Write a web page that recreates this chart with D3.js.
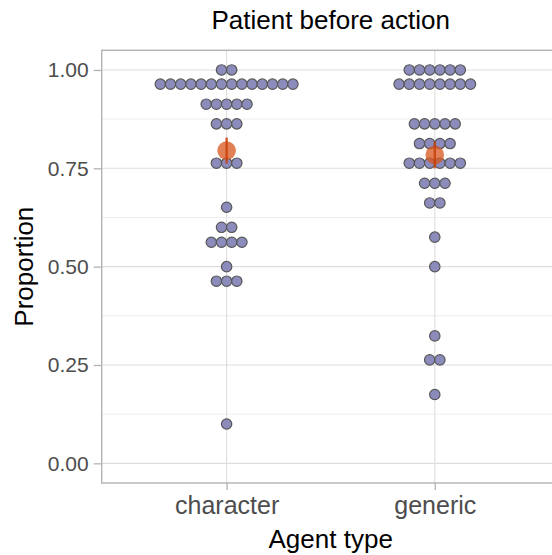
<!DOCTYPE html>
<html>
<head>
<meta charset="utf-8">
<style>
  body { margin: 0; background: #fff; }
  svg { font-family: "Liberation Sans", Arial, sans-serif; }
  .grid-major { stroke: #dedede; stroke-width: 1.1; }
  .grid-minor { stroke: #e6e6e6; stroke-width: 0.7; }
  .dot { fill: #8585b8; stroke: #575757; stroke-width: 1.2; fill-opacity: 0.95; }
</style>
</head>
<body>
<script src="https://d3js.org/d3.v7.min.js"></script>
<div class="chart"></div>
<script>
// categories and dot stacks
var categories = ["character", "generic"];

var characterLevels = [1.00, 0.964, 0.913, 0.863, 0.763, 0.651, 0.600, 0.562, 0.500, 0.463, 0.100];
var characterCounts = [2, 14, 5, 3, 3, 1, 2, 4, 1, 3, 1];

var genericLevels = [1.00, 0.964, 0.863, 0.813, 0.763, 0.712, 0.662, 0.575, 0.500, 0.324, 0.263, 0.175];
var genericCounts = [6, 8, 5, 4, 6, 3, 2, 1, 1, 1, 2, 1];

// mean and error bar per category
var means = [0.795, 0.784];
var lowers = [0.762, 0.750];
var uppers = [0.828, 0.818];

var yTicks = [0, 0.25, 0.5, 0.75, 1];
var yMinor = [0.125, 0.375, 0.625, 0.875];

var width = 552, height = 555;
var panel = {left: 101.7, top: 50.3, right: 559.7, bottom: 483};
var dotR = 5.2, dotStep = 10.2;

var svg = d3.select(".chart").append("svg")
    .attr("width", width)
    .attr("height", height);

var x = d3.scalePoint()
    .domain(categories)
    .range([panel.left, panel.right])
    .padding(0.6);

var y = d3.scaleLinear()
    .domain([-0.05, 1.05])
    .range([panel.bottom, panel.top]);

// grid
svg.append("g").selectAll("line")
    .data(yMinor).enter().append("line")
    .attr("class", "grid-minor")
    .attr("x1", panel.left).attr("x2", panel.right)
    .attr("y1", function(d) { return y(d); })
    .attr("y2", function(d) { return y(d); });

svg.append("g").selectAll("line")
    .data(yTicks).enter().append("line")
    .attr("class", "grid-major")
    .attr("x1", panel.left).attr("x2", panel.right)
    .attr("y1", function(d) { return y(d); })
    .attr("y2", function(d) { return y(d); });

svg.append("g").selectAll("line")
    .data(categories).enter().append("line")
    .attr("class", "grid-major")
    .attr("x1", function(d) { return x(d); })
    .attr("x2", function(d) { return x(d); })
    .attr("y1", panel.top).attr("y2", panel.bottom);

// build dot positions: each row centred on the category
var groups = [
  {cat: "character", levels: characterLevels, counts: characterCounts},
  {cat: "generic", levels: genericLevels, counts: genericCounts}
];
var dots = [];
groups.forEach(function(g) {
  g.levels.forEach(function(v, i) {
    var n = g.counts[i];
    for (var k = 0; k < n; k++) {
      dots.push({cat: g.cat, value: v, offset: (k - (n - 1) / 2) * dotStep});
    }
  });
});

svg.append("g").selectAll("circle")
    .data(dots).enter().append("circle")
    .attr("class", "dot")
    .attr("cx", function(d) { return x(d.cat) + d.offset; })
    .attr("cy", function(d) { return y(d.value); })
    .attr("r", dotR);

// mean + error bar
var summary = categories.map(function(c, i) {
  return {cat: c, mean: means[i], lo: lowers[i], hi: uppers[i]};
});

svg.append("g").selectAll("circle")
    .data(summary).enter().append("circle")
    .attr("cx", function(d) { return x(d.cat); })
    .attr("cy", function(d) { return y(d.mean); })
    .attr("r", 9.3)
    .attr("fill", "#d8561c")
    .attr("fill-opacity", 0.75);

svg.append("g").selectAll("line")
    .data(summary).enter().append("line")
    .attr("x1", function(d) { return x(d.cat); })
    .attr("x2", function(d) { return x(d.cat); })
    .attr("y1", function(d) { return y(d.lo); })
    .attr("y2", function(d) { return y(d.hi); })
    .attr("stroke", "#c8400c")
    .attr("stroke-opacity", 0.85)
    .attr("stroke-width", 2.4);

// panel border (right edge falls outside the picture)
svg.append("rect")
    .attr("x", panel.left).attr("y", panel.top)
    .attr("width", panel.right - panel.left)
    .attr("height", panel.bottom - panel.top)
    .attr("fill", "none")
    .attr("stroke", "#b3b3b3")
    .attr("stroke-width", 1.4);

// axes
var yAxis = svg.append("g")
    .attr("transform", "translate(" + panel.left + ",0)")
    .call(d3.axisLeft(y).tickValues(yTicks).tickFormat(d3.format(".2f")).tickSize(8).tickPadding(5));
yAxis.select(".domain").remove();
yAxis.selectAll(".tick line").attr("stroke", "#b3b3b3").attr("stroke-width", 1.3);
yAxis.selectAll(".tick text")
    .attr("fill", "#4d4d4d")
    .style("font-size", "21px")
    .style("font-family", "Liberation Sans, Arial, sans-serif");

var xAxis = svg.append("g")
    .attr("transform", "translate(0," + panel.bottom + ")")
    .call(d3.axisBottom(x).tickSize(7).tickPadding(6));
xAxis.select(".domain").remove();
xAxis.selectAll(".tick line").attr("stroke", "#b3b3b3").attr("stroke-width", 1.3);
xAxis.selectAll(".tick text")
    .attr("fill", "#4d4d4d")
    .style("font-size", "25px")
    .style("font-family", "Liberation Sans, Arial, sans-serif");

// titles
var cx = (panel.left + panel.right) / 2;
svg.append("text")
    .attr("x", cx).attr("y", 29)
    .attr("text-anchor", "middle")
    .style("font-size", "26px")
    .text("Patient before action");

svg.append("text")
    .attr("x", cx).attr("y", 548)
    .attr("text-anchor", "middle")
    .style("font-size", "26px")
    .text("Agent type");

svg.append("text")
    .attr("transform", "translate(33," + ((panel.top + panel.bottom) / 2) + ") rotate(-90)")
    .attr("text-anchor", "middle")
    .style("font-size", "26px")
    .text("Proportion");
</script>
</body>
</html>
